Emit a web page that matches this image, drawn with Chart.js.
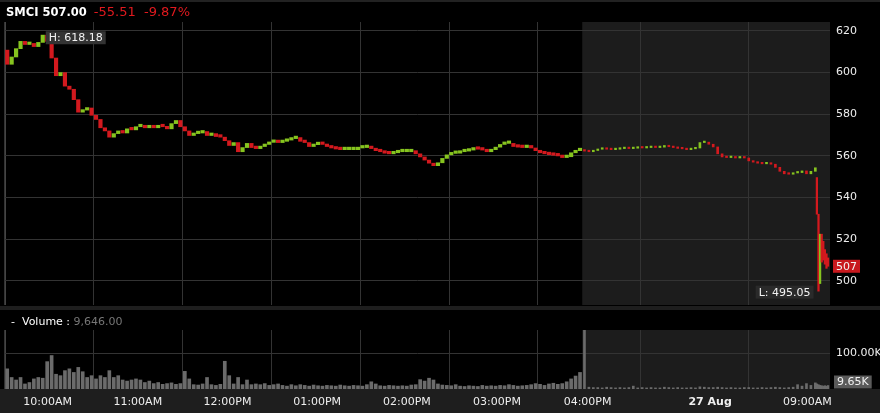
<!DOCTYPE html>
<html>
<head>
<meta charset="utf-8">
<script src="https://cdn.jsdelivr.net/npm/chart.js@4"></script>
<style>
  body { margin: 0; background: #000; width: 880px; height: 413px; overflow: hidden; position: relative; font-family: "DejaVu Sans", Verdana, sans-serif; }
  #topbar { position: absolute; left: 0; top: 0; width: 880px; height: 2px; background: #222; }
  #sep { position: absolute; left: 0; top: 306px; width: 880px; height: 4px; background: #1e1e1e; }
  #axisband { position: absolute; left: 0; top: 389px; width: 880px; height: 24px; background: #1e1e1e; }
  #title { position: absolute; left: 6px; top: 6px; font-size: 11.5px; line-height: 12px; color: #fff; font-weight: bold; white-space: pre; }
  #title .chg { color: #e0191e; font-weight: normal; font-size: 13px; margin-left: 7px; }
  #volTitle { position: absolute; left: 11px; top: 316px; font-size: 11px; line-height: 11px; color: #fff; white-space: pre; }
  #volTitle .v { color: #777; }
  canvas { position: absolute; left: 0; }
  #main { top: 0; }
  #vol { top: 310px; }
</style>
</head>
<body>
<div id="topbar"></div>
<div id="sep"></div>
<div id="axisband"></div>
<canvas id="main" width="880" height="306"></canvas>
<canvas id="vol" width="880" height="103"></canvas>
<div id="title">SMCI 507.00<span class="chg">-55.51  -9.87%</span></div>
<div id="volTitle">-  Volume : <span class="v">9,646.00</span></div>
<script>
// 3-minute candles, regular session 09:30 - 16:00
const firstOpen = 610.8;
const closes = [
  604, 607.5, 611.5, 615, 613.5, 614, 612.5, 614.5, 618, 615,
  607, 598.5, 600, 593.5, 592, 587, 581, 582, 583, 579.5,
  577.5, 573.5, 572, 569, 570.7, 572, 571, 573, 572.5, 574,
  574.5, 573.5, 574, 573.5, 574.5, 574, 573, 575.5, 577, 574,
  572, 569.8, 570.7, 571, 571.7, 569.8, 570.7, 569.3, 569, 567.3,
  565, 566.4, 562, 564, 566, 564, 563.5, 564.5, 565.5, 566.5,
  567, 566.4, 567, 567.6, 568.3, 568.8, 567, 566.4, 564.5, 565.4,
  566, 565.5, 564.5, 563.8, 563.3, 563, 563, 563, 563, 563.8,
  564, 564, 563.5, 562.5, 562, 561.3, 561, 561.5, 562, 562,
  562, 562.5, 561, 559.5, 558, 556.5, 555.3, 556.7, 558.8, 560.5,
  561.2, 561.3, 562, 562.3, 562.8, 563.5, 563.2, 562.8, 562, 563,
  564.2, 565.5, 566, 566, 564.5, 564.2, 564, 564, 563.8, 562.5,
  561.5, 561, 560.6, 560.3, 560, 559.2, 559.6, 561.5, 562.5, 562.51
];
const volumes = [
  56, 32, 25, 32, 14, 18, 28, 32, 30, 76,
  93, 41, 37, 51, 56, 46, 60, 48, 32, 37,
  28, 37, 32, 51, 32, 37, 25, 22, 25, 28,
  25, 18, 22, 15, 18, 13, 15, 17, 13, 15,
  49, 28, 12, 11, 14, 32, 12, 10, 13, 77,
  37, 14, 32, 12, 25, 12, 14, 12, 15, 10,
  12, 14, 10, 8, 12, 9, 12, 10, 8, 11,
  9, 8, 10, 9, 8, 11, 9, 8, 10, 9,
  8, 12, 20, 14, 9, 8, 10, 9, 8, 9,
  8, 11, 12, 26, 22, 30, 25, 14, 11, 10,
  9, 12, 8, 7, 9, 8, 7, 10, 8, 9,
  8, 10, 9, 12, 10, 8, 9, 10, 12, 15,
  13, 10, 14, 16, 13, 15, 20, 28, 36, 46
];
// extended hours (after-hours + pre-market)
const extCloses = [
  562.3, 562, 562.6, 563.2, 563.5, 563.2, 563, 563.2, 563.5, 563.6,
  563.5, 563.7, 564, 563.8, 564, 564.1, 564, 564.2, 565, 564.4,
  564, 563.6, 563.4, 563, 563.4, 563.8, 566.4, 566.6, 565.6, 564.3,
  561, 559.5, 559.2, 559.5, 559, 559.3, 559, 557.6, 557, 556.5,
  556.2, 556.4, 556, 554.5, 552.6, 551.4, 551.2, 551.8, 552, 552.8,
  551.4, 552.6, 554.3
];
const extVolumes = [
  170, 5, 4, 4, 3, 5, 4, 3, 4, 3,
  4, 8, 3, 4, 3, 4, 3, 3, 5, 4,
  3, 4, 3, 3, 4, 3, 6, 5, 4, 4,
  5, 4, 3, 4, 3, 3, 4, 4, 3, 3,
  4, 3, 4, 5, 4, 3, 4, 5, 12, 8,
  15, 10, 17
];
// last prints (sell-off)
const dropOpens = [549.6, 532, 498.7, 522.4, 519, 515, 513, 511];
const dropCloses = [532, 495.05, 522.4, 509, 510, 508, 506, 507];
const dropVolumes = [14, 12, 10, 9, 8, 9, 8, 9.646];

const sessionHigh = 618.18;
const sessionLow = 495.05;
const lastPrice = 507;
const lastVolume = 9.646;

const priceTicks = [500, 520, 540, 560, 580, 600, 620];
const volTicks = [100];
const gridSlots = [10, 30, 50, 70, 90, 110, 130, 156.3, 178.6];
const labelSlots = [9.6, 29.9, 50.1, 70.3, 90.5, 110.8, 131.2, 158.8, 180.7];
const timeLabels = ['10:00AM', '11:00AM', '12:00PM', '01:00PM', '02:00PM', '03:00PM', '04:00PM', '27 Aug', '09:00AM'];

const sessionSlots = closes.length;
const xMax = 185.8;
const dropStart = 182.85, dropStep = 0.36;

const GREEN = '#86c41f', RED = '#d3191e', GRID = '#333', SHADE = '#1c1c1c';
Chart.defaults.font.family = '"DejaVu Sans", Verdana, sans-serif';

// build candle points (open = previous close)
const regCandles = closes.map((c, i) => ({ x: i + 0.5, y: [i === 0 ? firstOpen : closes[i - 1], c] }));
const extCandles = extCloses.map((c, j) => ({ x: sessionSlots + j + 0.5, y: [j === 0 ? closes[sessionSlots - 1] : extCloses[j - 1], c] }));
const dropCandles = dropCloses.map((c, k) => ({ x: dropStart + k * dropStep, y: [dropOpens[k], c] }));

const regVol = volumes.map((v, i) => ({ x: i + 0.5, y: v }));
const extVol = extVolumes.map((v, j) => ({ x: sessionSlots + j + 0.5, y: v }));
const dropVol = dropVolumes.map((v, k) => ({ x: dropStart + k * dropStep, y: v }));

const candleColor = ctx => (ctx.raw && ctx.raw.y[1] >= ctx.raw.y[0]) ? GREEN : RED;

const shade = {
  id: 'shade',
  beforeDraw(chart) {
    const { ctx, chartArea: a, scales: { x } } = chart;
    const x0 = x.getPixelForValue(sessionSlots);
    ctx.save();
    ctx.fillStyle = SHADE;
    ctx.fillRect(x0, a.top, a.right - x0, a.bottom - a.top);
    ctx.fillStyle = '#444';
    ctx.fillRect(a.left - 1, a.top, 2, a.bottom - a.top);
    ctx.restore();
  }
};

function tag(ctx, text, x, y, bg, alignRight) {
  ctx.font = '11px "DejaVu Sans", Verdana, sans-serif';
  const w = ctx.measureText(text).width + 6;
  const left = alignRight ? x - w : x;
  ctx.fillStyle = bg;
  ctx.fillRect(left, y - 6.5, w, 13);
  ctx.fillStyle = '#f2f2f2';
  ctx.textBaseline = 'middle';
  ctx.textAlign = 'left';
  ctx.fillText(text, left + 3, y + 0.5);
}

const mainTags = {
  id: 'mainTags',
  afterDraw(chart) {
    const { ctx, chartArea: a, scales: { x, y } } = chart;
    ctx.save();
    const hi = closes.indexOf(Math.max(...closes));
    tag(ctx, 'H: ' + sessionHigh.toFixed(2), x.getPixelForValue(hi + 0.5) + 3, y.getPixelForValue(sessionHigh) + 3, '#333', false);
    const lo = dropCloses.indexOf(Math.min(...dropCloses));
    tag(ctx, 'L: ' + sessionLow.toFixed(2), x.getPixelForValue(dropStart + lo * dropStep) - 5, y.getPixelForValue(sessionLow) + 1, '#2a2a2a', true);
    tag(ctx, String(lastPrice), a.right + 3, y.getPixelForValue(lastPrice), '#c8191e', false);
    ctx.restore();
  }
};

const volTag = {
  id: 'volTag',
  afterDraw(chart) {
    const { ctx, chartArea: a, scales: { y } } = chart;
    ctx.save();
    const yy = Math.min(y.getPixelForValue(lastVolume), a.bottom - 7);
    tag(ctx, lastVolume.toFixed(2) + 'K', a.right + 4, yy, '#5a5a5a', false);
    ctx.restore();
  }
};

const noPad = s => { s.width = 50; s.paddingTop = 0; s.paddingBottom = 0; };

new Chart(document.getElementById('main'), {
  type: 'bar',
  data: {
    datasets: [
      { data: regCandles, backgroundColor: candleColor, barThickness: 3.5, minBarLength: 2.5 },
      { data: extCandles, backgroundColor: candleColor, barThickness: 2, minBarLength: 1.5 },
      { data: dropCandles, backgroundColor: candleColor, barThickness: 1.6, minBarLength: 1 }
    ]
  },
  options: {
    responsive: false,
    animation: false,
    layout: { padding: { left: 5, top: 22, right: 0, bottom: 1 } },
    datasets: { bar: { grouped: false } },
    plugins: { legend: { display: false }, tooltip: { enabled: false } },
    scales: {
      x: {
        type: 'linear', min: 0, max: xMax, offset: false,
        afterBuildTicks: s => { s.ticks = gridSlots.map(v => ({ value: v })); },
        afterFit: s => { s.height = 0; s.paddingLeft = 0; s.paddingRight = 0; },
        ticks: { display: false },
        grid: { color: GRID, drawTicks: false },
        border: { display: false }
      },
      y: {
        position: 'right', min: 488.4, max: 624.3,
        afterBuildTicks: s => { s.ticks = priceTicks.map(v => ({ value: v })); },
        afterFit: noPad,
        ticks: { color: '#eee', font: { size: 11 }, padding: 6 },
        grid: { color: GRID, drawTicks: false },
        border: { display: false }
      }
    }
  },
  plugins: [shade, mainTags]
});

new Chart(document.getElementById('vol'), {
  type: 'bar',
  data: {
    datasets: [
      { data: regVol, backgroundColor: '#6b6b6b', barThickness: 3 },
      { data: extVol, backgroundColor: '#6b6b6b', barThickness: 2 },
      { data: dropVol, backgroundColor: '#6b6b6b', barThickness: 1.6 }
    ]
  },
  options: {
    responsive: false,
    animation: false,
    layout: { padding: { left: 5, top: 20, right: 0, bottom: 0 } },
    datasets: { bar: { grouped: false } },
    plugins: { legend: { display: false }, tooltip: { enabled: false } },
    scales: {
      x: {
        type: 'linear', min: 0, max: xMax, offset: false,
        afterBuildTicks: s => { s.ticks = gridSlots.map(v => ({ value: v })); },
        afterFit: s => { s.height = 0; s.paddingLeft = 0; s.paddingRight = 0; },
        ticks: { display: false },
        grid: { color: GRID, drawTicks: false },
        border: { display: false }
      },
      x2: {
        type: 'linear', position: 'bottom', min: 0, max: xMax, offset: false,
        afterBuildTicks: s => { s.ticks = labelSlots.map(v => ({ value: v })); },
        afterFit: s => { s.height = 24; s.paddingLeft = 0; s.paddingRight = 0; },
        ticks: {
          color: '#eee', padding: 7, maxRotation: 0, autoSkip: false,
          callback: (v, i) => timeLabels[i],
          font: ctx => ({ size: 11, weight: timeLabels[ctx.index] === '27 Aug' ? 'bold' : 'normal' })
        },
        grid: { display: false, drawTicks: false },
        border: { display: false }
      },
      y: {
        position: 'right', min: 0, max: 163.9,
        afterBuildTicks: s => { s.ticks = volTicks.map(v => ({ value: v })); },
        afterFit: noPad,
        ticks: { color: '#eee', font: { size: 11 }, padding: 6, callback: v => v.toFixed(2) + 'K' },
        grid: { color: GRID, drawTicks: false },
        border: { display: false }
      }
    }
  },
  plugins: [shade, volTag]
});
</script>
</body>
</html>
